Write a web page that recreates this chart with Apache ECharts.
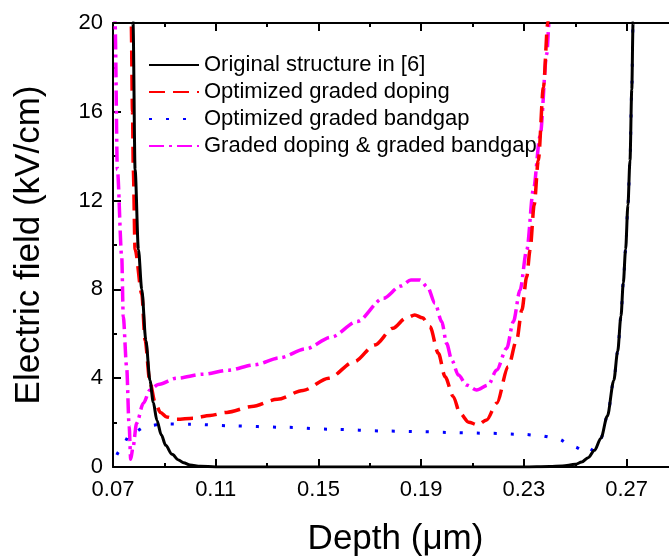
<!DOCTYPE html>
<html><head><meta charset="utf-8">
<script src="https://cdn.jsdelivr.net/npm/echarts@6/dist/echarts.min.js"></script>
<style>html,body{margin:0;padding:0;background:#fff}#c{width:669px;height:556px}</style>
</head><body><div id="c"></div>
<script>
const seriesNames = ["Original structure in [6]", "Optimized graded doping", "Optimized graded bandgap", "Graded doping & graded bandgap"];
const seriesColors = ["#000000", "#ff0000", "#0000ff", "#ff00ff"];

const original = [[0.0774,22],[0.0778,20],[0.0786,13.4],[0.0799,9.8],[0.0812,8.0],[0.0828,5.7],[0.0844,3.9],[0.0857,2.9],[0.0871,2.1],[0.0888,1.45],[0.0905,0.98],[0.0930,0.57],[0.0955,0.32],[0.0975,0.19],[0.1000,0.09],[0.1040,0.03],[0.1100,0.005],[0.1200,0],[0.2300,0],[0.2400,0.02],[0.2450,0.05],[0.2500,0.12],[0.2525,0.22],[0.2550,0.42],[0.2575,0.75],[0.2600,1.3],[0.2625,2.3],[0.2650,3.9],[0.2665,5.2],[0.2678,6.8],[0.2687,8.3],[0.2696,9.8],[0.2705,11.8],[0.2713,13.8],[0.2720,17.0],[0.2725,20],[0.2730,23]];

const gradedDoping = [[0.0768,22],[0.0771,20],[0.0776,16],[0.0779,13.4],[0.0786,9.8],[0.0812,7.8],[0.0825,5.7],[0.0844,3.8],[0.0864,2.9],[0.0885,2.45],[0.0909,2.25],[0.0948,2.15],[0.1012,2.2],[0.1078,2.32],[0.1143,2.46],[0.1240,2.72],[0.1340,3.05],[0.1440,3.45],[0.1540,4.0],[0.1640,4.75],[0.1720,5.5],[0.1790,6.25],[0.1840,6.7],[0.1875,6.85],[0.1905,6.72],[0.1934,6.32],[0.1967,5.12],[0.1993,4.07],[0.2025,3.17],[0.2051,2.42],[0.2085,2.02],[0.2120,1.9],[0.2155,2.12],[0.2194,2.87],[0.2239,4.52],[0.2272,5.72],[0.2292,7.07],[0.2311,8.57],[0.2324,9.77],[0.2340,11.8],[0.2356,13.8],[0.2376,17.1],[0.2393,20],[0.2398,21]];

const gradedBandgap = [[0.0715,0.55],[0.0725,0.72],[0.0769,1.5],[0.0835,1.86],[0.0902,1.94],[0.1000,1.93],[0.1167,1.85],[0.1363,1.79],[0.1550,1.7],[0.1766,1.62],[0.1895,1.59],[0.2032,1.55],[0.2161,1.52],[0.2298,1.47],[0.2363,1.41],[0.2428,1.29],[0.2493,0.92],[0.2551,0.62],[0.2580,0.95],[0.2600,1.3],[0.2625,2.3],[0.2650,3.9],[0.2665,5.2],[0.2678,6.8],[0.2687,8.3],[0.2696,9.8],[0.2705,11.8],[0.2713,13.8],[0.2720,17.0],[0.2725,20],[0.2730,23]];

const dopingAndBandgap = [[0.0706,22],[0.0708,20],[0.0717,13.4],[0.0734,9.47],[0.0740,6.77],[0.0753,4.52],[0.0763,1.82],[0.0769,0.35],[0.0778,0.9],[0.0792,1.97],[0.0818,2.87],[0.0844,3.47],[0.0876,3.72],[0.0948,4.0],[0.1050,4.18],[0.1150,4.36],[0.1250,4.6],[0.1350,4.92],[0.1450,5.32],[0.1550,5.85],[0.1650,6.55],[0.1753,7.6],[0.1820,8.15],[0.1860,8.42],[0.1895,8.42],[0.1925,8.1],[0.1954,7.37],[0.1980,6.55],[0.1999,5.57],[0.2019,4.82],[0.2045,4.14],[0.2077,3.69],[0.2116,3.47],[0.2161,3.69],[0.2194,4.37],[0.2233,5.35],[0.2259,6.55],[0.2285,7.97],[0.2311,9.77],[0.2337,12.5],[0.2363,14.9],[0.2389,18.6],[0.2398,20],[0.2402,21]];

const xMajorTicks = [0.07, 0.11, 0.15, 0.19, 0.23, 0.27];
const xMinorTicks = [0.09, 0.13, 0.17, 0.21, 0.25];
const xMin = 0.07, xMax = 0.29;
const yMin = 0, yMax = 20, yStep = 4;

const FONT = "Liberation Sans, Arial, sans-serif";
const allData = [original, gradedDoping, gradedBandgap, dopingAndBandgap];
const dashTypes = ["solid", [16, 8], [3, 14], [15, 5, 3, 5]];
const lineWidths = [3, 3.5, 3, 3.5];

const chart = echarts.init(document.getElementById('c'), null, {renderer: 'canvas'});

function xAx(pos, ticks, len, showLine, showLabel, extra) {
  return Object.assign({
    type: 'value', min: xMin, max: xMax, position: pos,
    axisLine: {show: showLine, onZero: false, lineStyle: {color: '#000', width: 2}},
    axisTick: {show: true, inside: true, length: len, customValues: ticks, lineStyle: {color: '#000', width: 2}},
    axisLabel: {show: showLabel, customValues: xMajorTicks, formatter: v => v.toFixed(2), fontSize: 22, color: '#000', fontFamily: FONT, margin: 12},
    splitLine: {show: false}
  }, extra || {});
}

chart.setOption({
  animation: false,
  backgroundColor: '#fff',
  grid: {left: 113, top: 23, width: 565, height: 444, containLabel: false, outerBoundsMode: 'none'},
  legend: {
    orient: 'vertical', left: 143, top: 49, itemWidth: 50, itemHeight: 14, itemGap: 5,
    data: seriesNames,
    itemStyle: {opacity: 0},
    textStyle: {fontSize: 22, color: '#000', fontFamily: FONT}
  },
  xAxis: [
    xAx('bottom', xMajorTicks, 8, true, true, {name: 'Depth (\u03bcm)', nameLocation: 'middle', nameGap: 55, nameTextStyle: {fontSize: 35, color: '#000', fontFamily: FONT}}),
    xAx('bottom', xMinorTicks, 4, false, false),
    xAx('top', xMajorTicks, 8, true, false),
    xAx('top', xMinorTicks, 4, false, false)
  ],
  yAxis: {
    type: 'value', min: yMin, max: yMax, interval: yStep,
    axisLine: {show: true, onZero: false, lineStyle: {color: '#000', width: 2}},
    axisTick: {show: true, inside: true, length: 8, lineStyle: {color: '#000', width: 2}},
    minorTick: {show: true, splitNumber: 2, length: 4, lineStyle: {color: '#000', width: 2}},
    axisLabel: {fontSize: 22, color: '#000', fontFamily: FONT, margin: 10},
    splitLine: {show: false},
    name: 'Electric field (kV/cm)', nameLocation: 'middle', nameGap: 66,
    nameTextStyle: {fontSize: 35, color: '#000', fontFamily: FONT}
  },
  series: seriesNames.map((n, i) => ({
    name: n, type: 'line', data: allData[i], xAxisIndex: 0,
    symbol: 'none', showSymbol: false, smooth: 0.3, smoothMonotone: 'x', clip: true,
    lineStyle: {color: seriesColors[i], width: lineWidths[i], type: dashTypes[i]},
    itemStyle: {color: seriesColors[i]},
    z: 10 - i
  }))
});
</script></body></html>
